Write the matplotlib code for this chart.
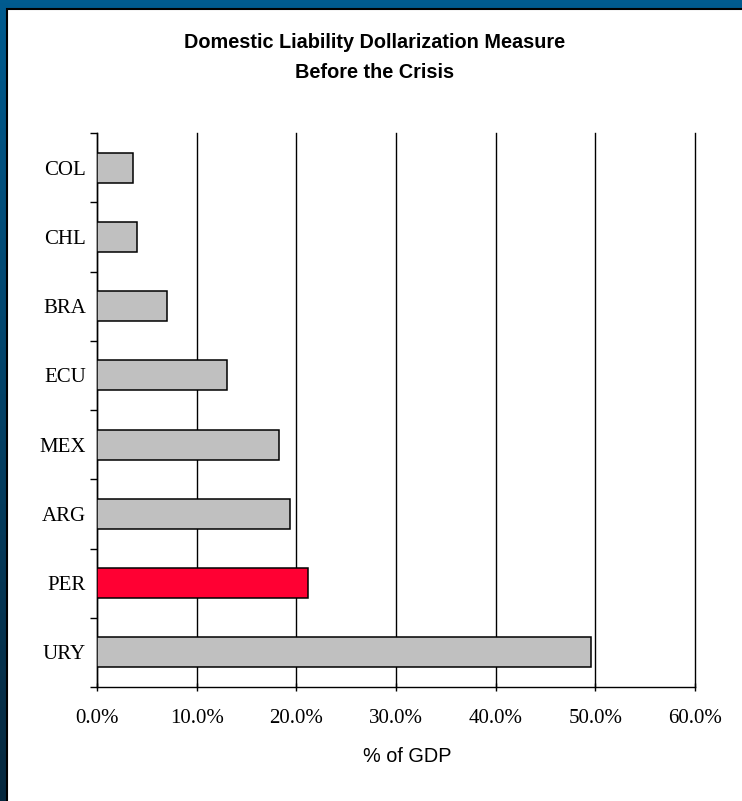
import matplotlib.pyplot as plt
import numpy as np
from matplotlib.patches import Rectangle

# Dollarization of domestic liabilities, % of GDP
countries = ['COL', 'CHL', 'BRA', 'ECU', 'MEX', 'ARG', 'PER', 'URY']
values = [3.6, 4.0, 7.0, 13.0, 18.25, 19.4, 21.2, 49.55]
highlight = 'PER'

W, H = 742, 801
fig = plt.figure(figsize=(W / 100, H / 100), dpi=100)

# blue frame with a vertical gradient, darker towards the bottom
bg = fig.add_axes([0, 0, 1, 1])
bg.axis('off')
top = np.array([0, 91, 143]) / 255
bottom = np.array([6, 40, 62]) / 255
t = np.linspace(0, 1, 256)[:, None]
grad = top + (bottom - top) * t
bg.imshow(grad[:, None, :].repeat(2, axis=1), aspect='auto', extent=[0, 1, 0, 1])
bg.set_xlim(0, 1)
bg.set_ylim(0, 1)
bg.add_patch(Rectangle((7 / W, -0.05), 1.1, 1.05 - 9 / H, facecolor='white',
                       edgecolor='black', linewidth=1.5, transform=bg.transAxes))

ax = fig.add_axes([97 / W, 1 - 687 / H, (695 - 97) / W, (687 - 133) / H])
ax.set_facecolor('none')
y = np.arange(len(countries))
colors = ['#FF0033' if c == highlight else '#C0C0C0' for c in countries]
ax.barh(y, values, height=0.43, color=colors, edgecolor='black', linewidth=1.1, zorder=3)

ax.set_xlim(0, 60)
ax.set_ylim(len(countries) - 0.5, -0.5)
ax.set_xticks(np.arange(0, 61, 10))
ax.set_xticklabels([f'{v:.1f}%' for v in np.arange(0, 61, 10)],
                   fontname='Liberation Serif', fontsize=15)
ax.set_yticks(y)
ax.set_yticklabels(countries, fontname='Liberation Serif', fontsize=15)
ax.set_yticks(np.arange(-0.5, len(countries), 1), minor=True)
ax.tick_params(axis='y', which='major', length=0, pad=8)
ax.tick_params(axis='y', which='minor', length=5, width=1, direction='out')
ax.tick_params(axis='x', length=6, width=1, direction='inout', pad=13)
ax.grid(axis='x', color='black', linewidth=1, zorder=1)
for gl in ax.get_xgridlines():
    gl.set_clip_on(False)
for s in ['top', 'right']:
    ax.spines[s].set_visible(False)
for s in ['left', 'bottom']:
    ax.spines[s].set_linewidth(1)

fig.text(0.5 + 4 / W, 1 - 42 / H, 'Domestic Liability Dollarization Measure',
         ha='center', va='center', fontname='Liberation Sans', fontweight='bold', fontsize=14.3)
fig.text(0.5 + 4 / W, 1 - 72 / H, 'Before the Crisis',
         ha='center', va='center', fontname='Liberation Sans', fontweight='bold', fontsize=14.3)
fig.text(407 / W, 1 - 757 / H, '% of GDP', ha='center', va='center',
         fontname='Liberation Sans', fontsize=14.3)

fig.savefig('out.png', dpi=100)
